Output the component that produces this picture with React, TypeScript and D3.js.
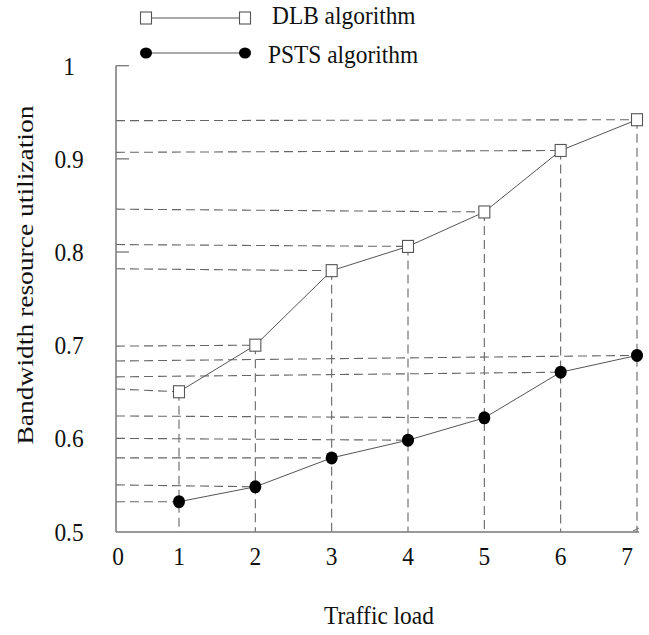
import React from 'react';
import * as d3 from 'd3';

// traffic load steps
const loads = [1, 2, 3, 4, 5, 6, 7];
// bandwidth resource utilization
const dlbValues = [0.65, 0.7, 0.78, 0.806, 0.843, 0.909, 0.942];
const pstsValues = [0.532, 0.548, 0.579, 0.598, 0.622, 0.671, 0.689];
// the guide lines are hand drawn: where each one meets the y axis
const dlbGuideStart = [0.653, 0.699, 0.782, 0.808, 0.846, 0.907, 0.941];
const pstsGuideStart = [0.532, 0.55, 0.579, 0.6, 0.624, 0.666, 0.683];

const yTicks = [0.5, 0.6, 0.7, 0.8, 0.9, 1];
const yTickMarks = [0.8, 0.9, 1];
const xTickLabels = ['1', '2', '3', '4', '5', '6', '7'];

const seriesLegend = ['DLB algorithm', 'PSTS algorithm'];

const W = 649;
const H = 635;
const left = 116;
const right = 639;
const bottom = 532;

const font = '"Liberation Serif", "Times New Roman", serif';
const ink = '#111';
const lineGray = '#555';
const dashGray = '#666';

const App = () => {
  const x = d3.scaleLinear().domain([1, 7]).range([179, 637]);
  const y = d3.scaleLinear().domain([0.5, 1]).range([531.5, 65.7]);

  const line = d3
    .line<number>()
    .x((_, i) => x(loads[i]))
    .y(d => y(d));

  const Label = ({ tx, ty, children, anchor = 'middle' }: any) => (
    <text
      transform={`translate(${tx},${ty}) scale(0.9,1)`}
      textAnchor={anchor}
      fontFamily={font}
      fontSize={26}
      fill={ink}
    >
      {children}
    </text>
  );

  return (
    <svg width={W} height={H} style={{ position: 'absolute', left: 0, top: 0, background: '#fff' }}>
      {/* horizontal guides from the y axis to each point */}
      {dlbValues.map((v, i) => (
        <line key={'hd' + i} x1={left} y1={y(dlbGuideStart[i])} x2={x(loads[i])} y2={y(v)}
          stroke={dashGray} strokeWidth={1.1} strokeDasharray="9,5" />
      ))}
      {pstsValues.map((v, i) => (
        <line key={'hp' + i} x1={left} y1={y(pstsGuideStart[i])} x2={x(loads[i])} y2={y(v)}
          stroke={dashGray} strokeWidth={1.1} strokeDasharray="9,5" />
      ))}
      {/* vertical guides down to the x axis */}
      {dlbValues.map((v, i) => (
        <line key={'v' + i} x1={x(loads[i])} y1={y(v)} x2={x(loads[i])} y2={bottom}
          stroke={dashGray} strokeWidth={1.1} strokeDasharray="9,5" />
      ))}

      {/* axes */}
      <line x1={left} y1={y(1)} x2={left} y2={bottom} stroke="#777" strokeWidth={1.5} />
      <line x1={left} y1={bottom} x2={right} y2={bottom} stroke="#777" strokeWidth={1.5} />
      <line x1={right - 6} y1={bottom - 1} x2={right} y2={bottom - 4} stroke="#777" strokeWidth={1.2} />
      {yTickMarks.map(t => (
        <line key={'tm' + t} x1={left} y1={y(t)} x2={left + 13} y2={y(t)} stroke="#777" strokeWidth={1.3} />
      ))}

      {/* tick labels */}
      {yTicks.map(t => (
        <Label key={'yt' + t} tx={69} ty={y(t) + 9}>{d3.format('')(t)}</Label>
      ))}
      <Label tx={left + 2} ty={565}>0</Label>
      {loads.map((l, i) => (
        <Label key={'xt' + l} tx={x(l) - (l === 7 ? 10 : 0)} ty={565}>{xTickLabels[i]}</Label>
      ))}

      {/* axis titles */}
      <Label tx={379} ty={624}>Traffic load</Label>
      <text
        transform="translate(33,275) rotate(-90) scale(1.1,0.92)"
        textAnchor="middle"
        fontFamily={font}
        fontSize={25}
        fill={ink}
      >
        Bandwidth resource utilization
      </text>

      {/* series */}
      <path d={line(dlbValues) || ''} fill="none" stroke={lineGray} strokeWidth={1} />
      <path d={line(pstsValues) || ''} fill="none" stroke={lineGray} strokeWidth={1} />
      {dlbValues.map((v, i) => (
        <rect key={'sq' + i} x={x(loads[i]) - 5.5} y={y(v) - 6} width={11} height={12}
          fill="#fff" stroke={lineGray} strokeWidth={1.1} />
      ))}
      {pstsValues.map((v, i) => (
        <ellipse key={'ci' + i} cx={x(loads[i])} cy={y(v)} rx={6} ry={6.5} fill="#000" />
      ))}

      {/* legend */}
      <g>
        <line x1={146} y1={18} x2={245} y2={18} stroke={lineGray} strokeWidth={1} />
        <rect x={140.5} y={12} width={11} height={12} fill="#fff" stroke={lineGray} strokeWidth={1.1} />
        <rect x={239.5} y={12} width={11} height={12} fill="#fff" stroke={lineGray} strokeWidth={1.1} />
        <Label tx={272} ty={24} anchor="start">{seriesLegend[0]}</Label>
        <line x1={146} y1={53} x2={245} y2={53} stroke={lineGray} strokeWidth={1} />
        <ellipse cx={146} cy={53} rx={6} ry={5.5} fill="#000" />
        <ellipse cx={245} cy={53} rx={6} ry={5.5} fill="#000" />
        <Label tx={268} ty={63} anchor="start">{seriesLegend[1]}</Label>
      </g>
    </svg>
  );
};

export default App;
